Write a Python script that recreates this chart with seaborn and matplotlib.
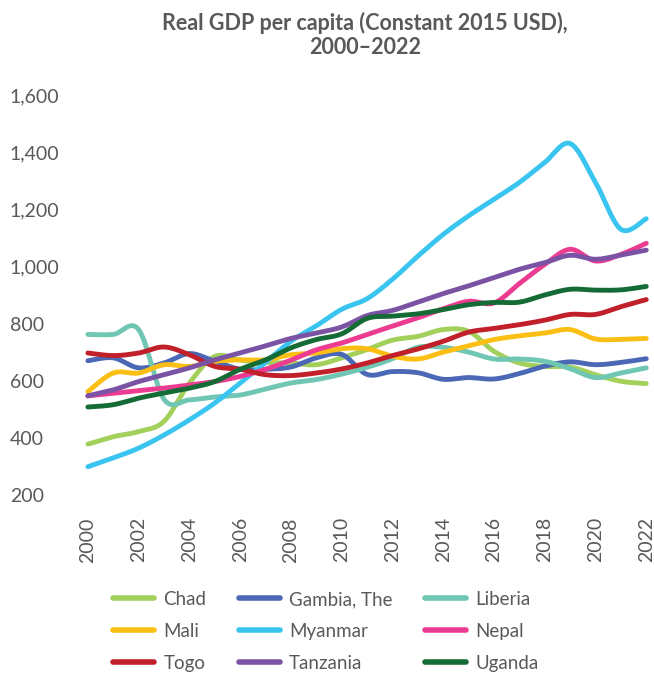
import numpy as np
import pandas as pd
import matplotlib
matplotlib.use("Agg")
import matplotlib.pyplot as plt
from matplotlib.lines import Line2D
import seaborn as sns

# Real GDP per capita, constant 2015 USD
years = list(range(2000, 2023))

chad = [378, 404, 422, 458, 592, 685, 672, 664, 662, 656, 680, 709, 742, 755, 779,
        773, 703, 662, 650, 648, 621, 598, 590]
gambia = [670, 680, 645, 662, 695, 668, 640, 640, 648, 680, 692, 622, 632, 628, 605,
          611, 606, 625, 651, 666, 656, 664, 677]
liberia = [762, 762, 779, 535, 533, 543, 550, 571, 592, 604, 623, 647, 677, 717, 717,
           700, 676, 676, 668, 642, 611, 627, 645]
mali = [562, 627, 627, 656, 650, 668, 673, 673, 691, 697, 712, 712, 686, 676, 700,
        722, 744, 757, 767, 779, 746, 745, 748]
myanmar = [299, 330, 364, 410, 463, 522, 592, 664, 738, 792, 850, 887, 955, 1036, 1112,
           1177, 1235, 1294, 1364, 1430, 1294, 1130, 1167]
nepal = [547, 556, 565, 574, 585, 597, 615, 640, 672, 708, 732, 762, 791, 820, 852,
         878, 872, 940, 1007, 1060, 1019, 1042, 1081]
togo = [697, 688, 697, 718, 691, 650, 640, 621, 618, 627, 641, 662, 688, 711, 738,
        770, 783, 796, 812, 832, 832, 859, 884]
tanzania = [547, 568, 597, 621, 645, 673, 697, 722, 748, 767, 788, 828, 846, 875, 905,
            932, 961, 990, 1013, 1039, 1025, 1040, 1057]
uganda = [508, 516, 539, 557, 574, 597, 640, 673, 715, 744, 764, 818, 826, 834, 849,
          866, 874, 875, 900, 920, 917, 918, 930]

countries = ["Chad", "Gambia, The", "Liberia", "Mali", "Myanmar", "Nepal",
             "Togo", "Tanzania", "Uganda"]
series = [chad, gambia, liberia, mali, myanmar, nepal, togo, tanzania, uganda]
colors = ["#a3d05b", "#4a68b5", "#6fc6b3", "#fbbf14", "#3ac5f0", "#ec3c91",
          "#c11f2a", "#7b53a4", "#156b35"]

y_ticks = [200, 400, 600, 800, 1000, 1200, 1400, 1600]
x_ticks = list(range(2000, 2023, 2))


def catmull_rom(x, y, steps=20):
    """Smooth path through every data point (uniform Catmull-Rom)."""
    p = np.column_stack([x, y]).astype(float)
    p = np.vstack([p[0], p, p[-1]])
    out = []
    t = np.linspace(0, 1, steps, endpoint=False)[:, None]
    for i in range(1, len(p) - 2):
        p0, p1, p2, p3 = p[i - 1], p[i], p[i + 1], p[i + 2]
        seg = 0.5 * (2 * p1 + (-p0 + p2) * t + (2 * p0 - 5 * p1 + 4 * p2 - p3) * t ** 2
                     + (-p0 + 3 * p1 - 3 * p2 + p3) * t ** 3)
        out.append(seg)
    out.append(p[-2][None, :])
    out = np.vstack(out)
    return out[:, 0], out[:, 1]


frames = []
for name, vals in zip(countries, series):
    sx, sy = catmull_rom(years, vals)
    frames.append(pd.DataFrame({"year": sx, "gdp": sy, "country": name}))
df = pd.concat(frames, ignore_index=True)

sns.set_theme(style="white")
plt.rcParams["font.family"] = ["Lato", "DejaVu Sans"]
grey = "#595959"

fig = plt.figure(figsize=(6.54, 6.79), dpi=100)
ax = fig.add_axes([0.115, 1 - 495 / 679, 0.879, 400 / 679])

palette = dict(zip(countries, colors))
sns.lineplot(data=df, x="year", y="gdp", hue="country", palette=palette,
             estimator=None, sort=False, linewidth=3.5, legend=False, ax=ax,
             solid_capstyle="round")

ax.set_xlim(1999.5, 2022.15)
ax.set_ylim(200, 1600)
ax.set_xticks(x_ticks)
ax.set_xticklabels([str(v) for v in x_ticks], rotation=90)
ax.set_yticks(y_ticks)
ax.set_yticklabels([f"{v:,}" for v in y_ticks])
ax.set_xlabel("")
ax.set_ylabel("")
for s in ax.spines.values():
    s.set_visible(False)
ax.grid(False)
ax.tick_params(axis="x", length=0, pad=16, labelsize=14, labelcolor=grey)
ax.tick_params(axis="y", length=0, pad=47, labelsize=14, labelcolor=grey)
for lbl in ax.get_yticklabels():
    lbl.set_horizontalalignment("left")

fig.text(365 / 654, 1 - 12 / 679, "Real GDP per capita (Constant 2015 USD),\n2000–2022",
         ha="center", va="top", fontsize=15.5, fontweight="bold", color=grey,
         linespacing=1.15)

# legend laid out row by row: three countries per row
order = [0, 3, 6, 1, 4, 7, 2, 5, 8]
handles = [Line2D([0], [0], color=colors[i], lw=4, solid_capstyle="round") for i in order]
labels = [countries[i] for i in order]
fig.legend(handles, labels, ncol=3, loc="upper left",
           bbox_to_anchor=(113 / 654, 1 - 591 / 679), frameon=False,
           fontsize=13.5, labelcolor=grey, handlelength=2.2, handletextpad=0.5,
           columnspacing=1.7, labelspacing=0.8, borderaxespad=0, borderpad=0)

fig.savefig("out.png", dpi=100)
